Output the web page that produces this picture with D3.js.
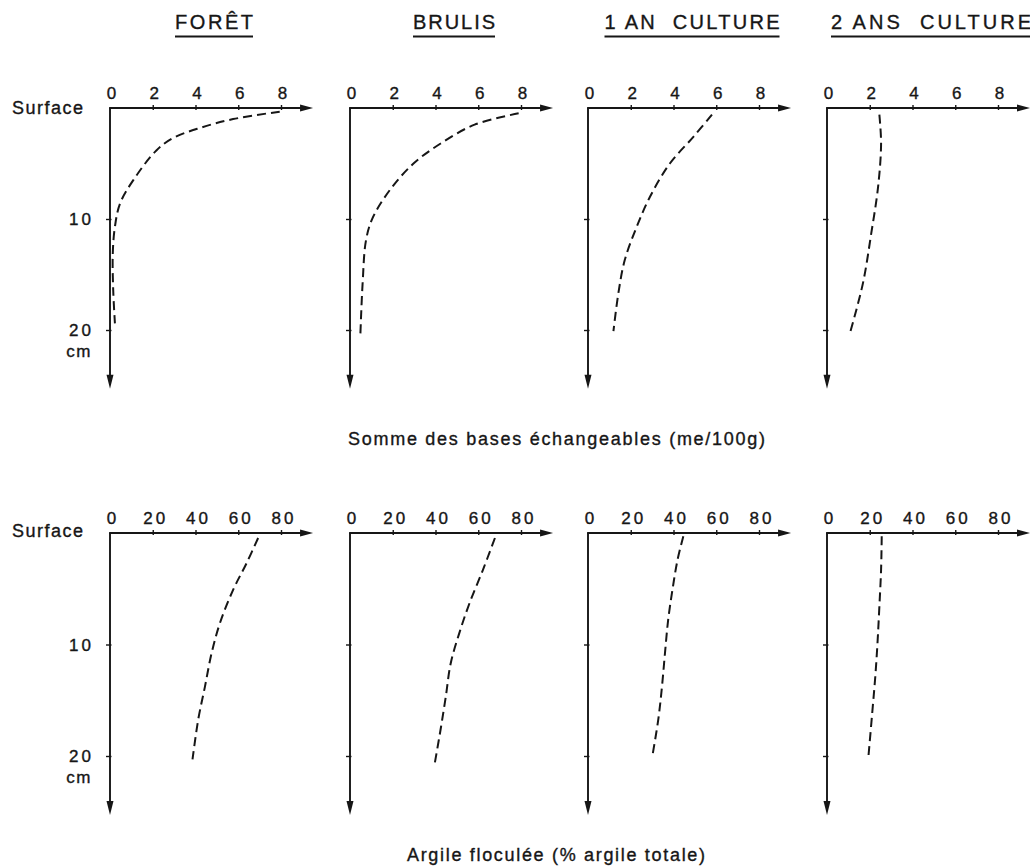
<!DOCTYPE html>
<html><head><meta charset="utf-8">
<script src="https://cdn.jsdelivr.net/npm/d3@7"></script>
<style>
body{margin:0;background:#fff}
text{font-family:"Liberation Sans",Arial,Helvetica,sans-serif;fill:#161616;stroke:#161616;stroke-width:0.35px;white-space:pre}
</style>
</head><body>
<svg id="c" width="1030" height="867"></svg>
<script>
// ---------- data ----------
const panelTitles = ["FORÊT", "BRULIS", "1 AN  CULTURE", "2 ANS  CULTURE"];
const basesTicks = [0, 2, 4, 6, 8];
const argileTicks = [0, 20, 40, 60, 80];
const depthTicks = [10, 20];
const depthLabels = ["10", "20"];
const depthUnit = "cm";
const surfaceLabel = "Surface";
const basesTitle = "Somme des bases échangeables (me/100g)";
const argileTitle = "Argile floculée (% argile totale)";

// each point: [value, depth in cm]
const basesForet = [[7.94,0.33],[5.76,1.0],[4.2,1.8],[2.96,2.7],[2.18,3.8],[1.09,6.5],[0.47,8.6],[0.23,10.7],[0.13,13.1],[0.15,16.4],[0.23,19.4]];
const basesBrulis = [[7.89,0.48],[5.83,1.5],[4.24,3.2],[2.97,5.0],[1.86,7.4],[1.06,9.9],[0.75,11.9],[0.59,15.8],[0.48,20.7]];
const bases1an = [[5.8,0.6],[4.93,2.6],[3.83,5.0],[2.9,8.0],[2.28,10.7],[1.72,13.7],[1.42,16.7],[1.19,20.1]];
const bases2ans = [[2.45,0.6],[2.53,3.2],[2.39,7.1],[2.07,11.3],[1.68,15.8],[1.1,20.1]];

const argileForet = [[69.3,0.45],[63.9,2.7],[57.6,5.1],[51.4,8.1],[47.5,10.8],[44.4,13.8],[41.3,16.7],[38.6,20.3]];
const argileBrulis = [[67.8,0.45],[62.2,3.3],[55.9,6.3],[51.1,9.0],[47.1,11.7],[44.8,14.7],[42.4,17.6],[39.7,20.6]];
const argile1an = [[44.6,0.3],[41.9,2.4],[39.5,5.1],[37.5,7.8],[36.0,10.8],[34.6,13.8],[32.9,16.7],[30.3,19.8]];
const argile2ans = [[25.6,0.3],[25.3,3.3],[24.5,6.6],[23.7,9.6],[22.7,12.6],[21.4,15.6],[19.4,20.0]];

// ---------- layout ----------
const W = 1030, H = 867;
const panelX = [110, 350, 588, 827];
const plotW = 171;             // width for the last labelled tick
const titleW = [78, 82, 175, 200];
const ink = "#161616";
const tickFont = 17, tickSpacing = 3;

const rows = [
  { ticks: basesTicks, max: 8, y0: 108, y20: 330, series: [basesForet, basesBrulis, bases1an, bases2ans],
    label: basesTitle, labelX: 348, labelW: 417, labelY: 445, surfY: 114 },
  { ticks: argileTicks, max: 80, y0: 533, y20: 756, series: [argileForet, argileBrulis, argile1an, argile2ans],
    label: argileTitle, labelX: 407, labelW: 298, labelY: 861, surfY: 537 }
];

const svg = d3.select("#c");

// titles
panelTitles.forEach((t, i) => {
  const cx = panelX[i] + 104;
  svg.append("text").attr("x", cx - titleW[i] / 2).attr("y", 29)
    .attr("font-size", 20).attr("textLength", titleW[i]).attr("lengthAdjust", "spacing")
    .text(t);
  svg.append("line").attr("x1", cx - titleW[i] / 2).attr("x2", cx + titleW[i] / 2)
    .attr("y1", 36.5).attr("y2", 36.5).attr("stroke", ink).attr("stroke-width", 2.2);
});

rows.forEach(row => {
  const y = d3.scaleLinear().domain([0, 20]).range([row.y0, row.y20]);
  const yEnd = y(25.3);

  panelX.forEach((px, i) => {
    const x = d3.scaleLinear().domain([0, row.max]).range([px, px + plotW]);
    const xEnd = Math.min(x(row.max * 1.1875), W);
    const g = svg.append("g");

    // axis lines
    g.append("line").attr("x1", x(0) - 0.9).attr("x2", xEnd - 4).attr("y1", y(0)).attr("y2", y(0))
      .attr("stroke", ink).attr("stroke-width", 1.8);
    g.append("line").attr("x1", x(0)).attr("x2", x(0)).attr("y1", y(0)).attr("y2", yEnd - 4)
      .attr("stroke", ink).attr("stroke-width", 1.9);
    // arrowheads
    g.append("path").attr("d", `M${xEnd},${y(0)} L${xEnd - 13},${y(0) - 3.5} L${xEnd - 13},${y(0) + 3.5} Z`).attr("fill", ink);
    g.append("path").attr("d", `M${x(0)},${yEnd} L${x(0) - 3.5},${yEnd - 14} L${x(0) + 3.5},${yEnd - 14} Z`).attr("fill", ink);

    // x axis with ticks
    const ax = g.append("g").attr("transform", `translate(0,${y(0)})`)
      .call(d3.axisTop(x).tickValues(row.ticks).tickSizeInner(3).tickSizeOuter(0).tickPadding(6).tickFormat(d3.format("d")));
    ax.select(".domain").remove();
    ax.selectAll(".tick line").attr("y1", 2).attr("stroke", ink).attr("stroke-width", 1.4);
    ax.selectAll(".tick line").filter(d => d === 0).remove();
    ax.selectAll(".tick text").attr("font-size", tickFont).attr("fill", ink)
      .attr("letter-spacing", tickSpacing).attr("dx", tickSpacing / 2 + 1)
      .attr("font-family", '"Liberation Sans",Arial,sans-serif');

    // y ticks
    const ay = g.append("g").attr("transform", `translate(${x(0)},0)`)
      .call(d3.axisLeft(y).tickValues(depthTicks).tickSizeInner(4).tickSizeOuter(0).tickFormat(""));
    ay.select(".domain").remove();
    ay.selectAll(".tick line").attr("x1", 1.5).attr("stroke", ink).attr("stroke-width", 1.4);

    // curve
    const line = d3.line().x(d => x(d[0])).y(d => y(d[1])).curve(d3.curveCatmullRom.alpha(0.5));
    g.append("path").datum(row.series[i]).attr("d", line)
      .attr("fill", "none").attr("stroke", ink).attr("stroke-width", 2)
      .attr("stroke-dasharray", "9,5");

    if (i === 0) {
      svg.append("text").attr("x", 83).attr("y", row.surfY).attr("text-anchor", "end")
        .attr("font-size", 18).attr("textLength", 71).attr("lengthAdjust", "spacing").text(surfaceLabel);
      depthTicks.forEach((d, k) => {
        svg.append("text").attr("x", x(0) - 16).attr("y", y(d) + 6).attr("text-anchor", "end")
          .attr("font-size", tickFont).attr("letter-spacing", tickSpacing).text(depthLabels[k]);
      });
      svg.append("text").attr("x", x(0) - 18).attr("y", y(20) + 27).attr("text-anchor", "end")
        .attr("font-size", tickFont).attr("letter-spacing", 1.5).text(depthUnit);
    }
  });

  svg.append("text").attr("x", row.labelX).attr("y", row.labelY)
    .attr("font-size", 18).attr("textLength", row.labelW).attr("lengthAdjust", "spacing").text(row.label);
});
</script>
</body></html>
